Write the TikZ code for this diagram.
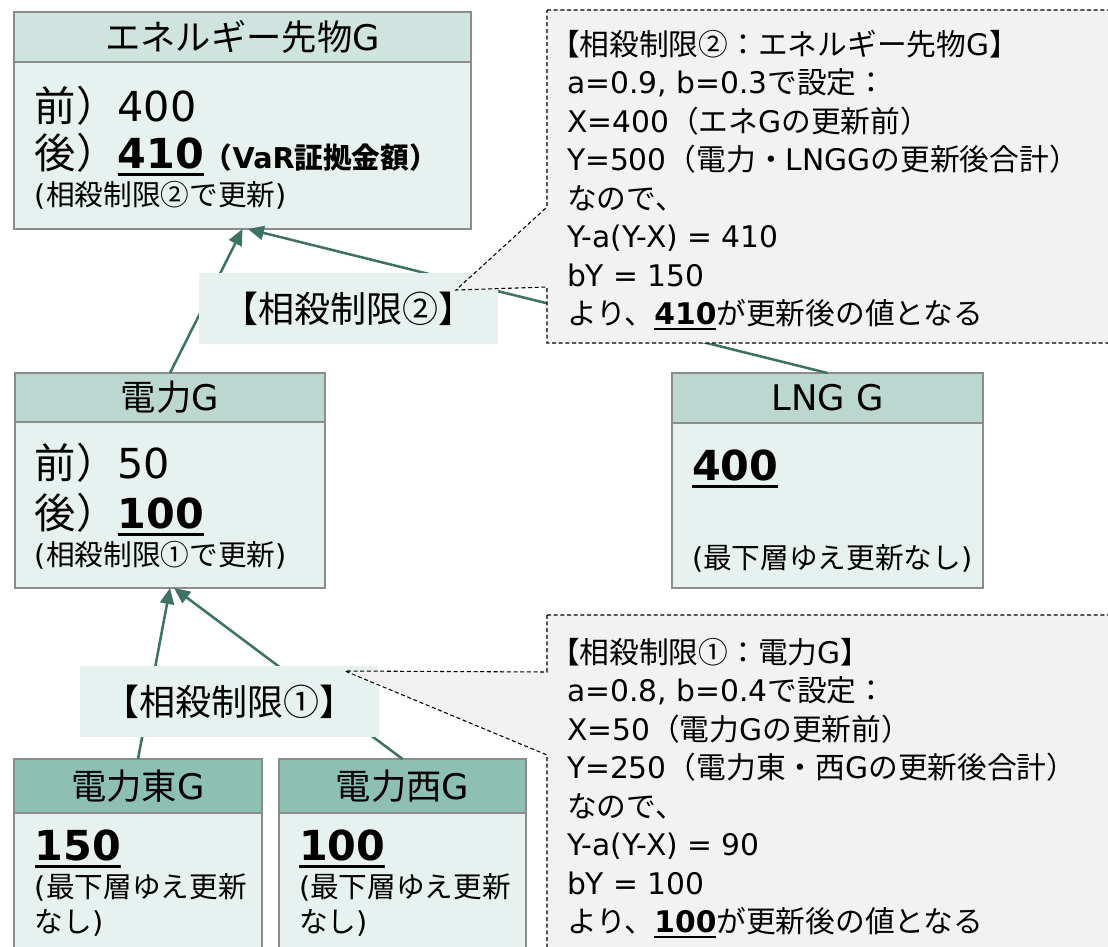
\documentclass[tikz,border=0pt]{standalone}
\usepackage{fontspec}
\setmainfont{DejaVu Sans}
\newfontfamily\jp{Noto Sans CJK JP}
\usetikzlibrary{arrows.meta}

% automatic switch to the Japanese font for CJK characters
\XeTeXinterchartokenstate=1
\newXeTeXintercharclass\JPclass
\newcount\cc
\cc="2460 \loop \XeTeXcharclass\cc=\JPclass \advance\cc by 1 \ifnum\cc<"2500 \repeat
\cc="3000 \loop \XeTeXcharclass\cc=\JPclass \advance\cc by 1 \ifnum\cc<"A000 \repeat
\cc="FF00 \loop \XeTeXcharclass\cc=\JPclass \advance\cc by 1 \ifnum\cc<"FFF0 \repeat
\XeTeXinterchartoks 0 \JPclass = {\jp}
\XeTeXinterchartoks 4095 \JPclass = {\jp}
\XeTeXinterchartoks \JPclass 0 = {\rmfamily}
\XeTeXinterchartoks \JPclass 4095 = {\rmfamily}

\definecolor{bordc}{RGB}{140,140,140}
\definecolor{bodyc}{RGB}{231,241,239}
\definecolor{hA}{RGB}{208,228,223}
\definecolor{hB}{RGB}{188,215,208}
\definecolor{hC}{RGB}{141,191,178}
\definecolor{arrc}{RGB}{62,114,100}
\definecolor{callc}{RGB}{242,242,242}

\newcommand\fhead{\fontsize{26.5}{30}\selectfont}
\newcommand\fbig{\fontsize{31}{36}\selectfont}
\newcommand\fsmall{\fontsize{21.5}{26}\selectfont}
\newcommand\fcall{\fontsize{22.3}{28.9}\selectfont}
\newcommand\flab{\fontsize{27}{32}\selectfont}
\newcommand\ul[1]{\setbox0\hbox{\rmfamily\bfseries #1}\leavevmode\rlap{\vrule height -0.12em depth 0.19em width \wd0}\box0}

\newcommand\mkbox[7]{\node[#6, minimum width={(#4-#2)*0.75pt}, minimum height={(#5-#3)*0.75pt}] (#1) at ({(#2+#4)/2},{(#3+#5)/2}) {#7};}

\tikzset{
 hdr/.style={draw=bordc, line width=1.1pt, inner sep=0pt, outer sep=0pt, font=\fhead},
 bodyb/.style={draw=bordc, line width=1.1pt, fill=bodyc, inner sep=0pt, outer sep=0pt},
 arr/.style={draw=arrc, line width=1.9pt, -{Triangle[length=12pt,width=10.5pt]}},
 lab/.style={fill=bodyc, inner sep=0pt, font=\flab, minimum width=224.25pt, minimum height=53.25pt},
 callbox/.style={fill=callc, draw=black, line width=0.8pt, dash pattern=on 3pt off 2pt},
 txt/.style={anchor=base west, inner sep=0pt, outer sep=0pt},
}

\begin{document}
\begin{tikzpicture}[x=0.75pt,y=-0.75pt]
\useasboundingbox (0,0) rectangle (1108,947);

% boxes
\mkbox{topH}{14}{12}{471}{62}{hdr,fill=hA}{エネルギー先物G}
\mkbox{topB}{14}{62}{471}{229}{bodyb}{}
\mkbox{denH}{15}{373}{325}{422}{hdr,fill=hB}{電力G}
\mkbox{denB}{15}{422}{325}{588}{bodyb}{}
\mkbox{lngH}{672}{373}{983}{423}{hdr,fill=hB}{LNG G}
\mkbox{lngB}{672}{423}{983}{588}{bodyb}{}
\mkbox{eastH}{14}{759}{262}{813}{hdr,fill=hC}{電力東G}
\mkbox{eastB}{14}{813}{262}{970}{bodyb}{}
\mkbox{westH}{279}{759}{526}{813}{hdr,fill=hC}{電力西G}
\mkbox{westB}{279}{813}{526}{970}{bodyb}{}

% connectors
\draw[arr] (denH.north) -- (topB.south);
\draw[arr] (lngH.north) -- ([xshift=4pt]topB.south);
\draw[arr] (eastH.north) -- (denB.south);
\draw[arr] (westH.north) -- ([xshift=3pt]denB.south);

% labels
\node[lab] (lab2) at (348.5,308.5) {【相殺制限②】};
\node[lab] (lab1) at (229.5,701.5) {【相殺制限①】};

% callouts
\coordinate (tip2) at (456,290);
\coordinate (tip1) at (345,671);
\path[callbox] (547,10) -- (1115,10) -- (1115,343) -- (547,343) -- (547,287) -- (tip2) -- (547,207) -- cycle;
\path[callbox] (547,615) -- (1115,615) -- (1115,960) -- (547,960) -- (547,755) -- (tip1) -- (547,672) -- cycle;

% box texts
\node[txt, font=\fbig] (t1) at (35,121) {前）400};
\node[txt, font=\fbig] (t2) at (35,168) {後）\ul{410}{\fsmall\bfseries （VaR証拠金額）}};
\node[txt, font=\fsmall] (t3) at (35,205) {(相殺制限②で更新)};

\node[txt, font=\fbig] (d1) at (35,478) {前）50};
\node[txt, font=\fbig] (d2) at (35,528) {後）\ul{100}};
\node[txt, font=\fsmall] (d3) at (35,565) {(相殺制限①で更新)};

\node[txt, font=\fbig] (l1) at (692,480) {\ul{400}};
\node[txt, font=\fsmall] (l2) at (692,568) {(最下層ゆえ更新なし)};

\node[txt, font=\fbig] (e1) at (35,860) {\ul{150}};
\node[txt, font=\fsmall] (e2) at (35,897) {(最下層ゆえ更新};
\node[txt, font=\fsmall] (e3) at (35,932) {なし)};

\node[txt, font=\fbig] (w1) at (299,860) {\ul{100}};
\node[txt, font=\fsmall] (w2) at (299,897) {(最下層ゆえ更新};
\node[txt, font=\fsmall] (w3) at (299,932) {なし)};

% callout texts
\node[txt, font=\fcall] (a1) at (550,55) {【相殺制限②：エネルギー先物G】};
\node[txt, font=\fcall] (a2) at (567,93.5) {a=0.9, b=0.3で設定：};
\node[txt, font=\fcall] (a3) at (567,132) {X=400（エネGの更新前）};
\node[txt, font=\fcall] (a4) at (567,170.5) {Y=500（電力・LNGGの更新後合計）};
\node[txt, font=\fcall] (a5) at (567,209) {なので、};
\node[txt, font=\fcall] (a6) at (567,247.5) {Y-a(Y-X) = 410};
\node[txt, font=\fcall] (a7) at (567,286) {bY = 150};
\node[txt, font=\fcall] (a8) at (567,324.5) {より、\ul{410}が更新後の値となる};

\node[txt, font=\fcall] (b1) at (550,663) {【相殺制限①：電力G】};
\node[txt, font=\fcall] (b2) at (567,701.5) {a=0.8, b=0.4で設定：};
\node[txt, font=\fcall] (b3) at (567,740) {X=50（電力Gの更新前）};
\node[txt, font=\fcall] (b4) at (567,778.5) {Y=250（電力東・西Gの更新後合計）};
\node[txt, font=\fcall] (b5) at (567,817) {なので、};
\node[txt, font=\fcall] (b6) at (567,855.5) {Y-a(Y-X) = 90};
\node[txt, font=\fcall] (b7) at (567,894) {bY = 100};
\node[txt, font=\fcall] (b8) at (567,932.5) {より、\ul{100}が更新後の値となる};
\end{tikzpicture}
\end{document}
